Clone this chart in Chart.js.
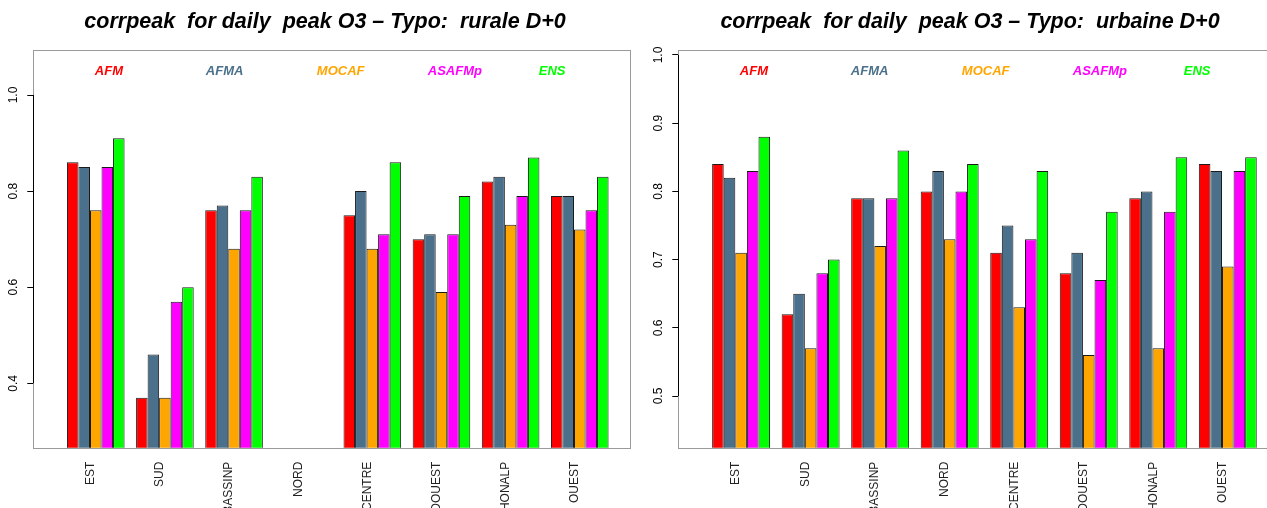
<!DOCTYPE html>
<html>
<head>
<meta charset="utf-8">
<script src="https://cdn.jsdelivr.net/npm/chart.js@4.4.1/dist/chart.umd.min.js"></script>
<style>
  html, body { margin: 0; padding: 0; background: #fff; overflow: hidden; }
  #wrap { position: relative; width: 1267px; height: 508px; overflow: hidden; }
  #rurale { position: absolute; left: 0; top: 0; }
  #urbaine { position: absolute; left: 640px; top: 0; }
</style>
</head>
<body>
<div id="wrap">
  <canvas id="rurale" width="640" height="508"></canvas>
  <canvas id="urbaine" width="650" height="508"></canvas>
</div>
<script>
const regions = ['EST', 'SUD', 'BASSINP', 'NORD', 'CENTRE', 'SUDOUEST', 'RHONALP', 'OUEST'];
const models = ['AFM', 'AFMA', 'MOCAF', 'ASAFMp', 'ENS'];
const colours = ['#ff0000', '#4a708b', '#ffa500', '#ff00ff', '#00ff00'];

// rurale D+0 (no NORD station)
const ruraleAFM    = [0.86, 0.37, 0.76, null, 0.75, 0.70, 0.82, 0.79];
const ruraleAFMA   = [0.85, 0.46, 0.77, null, 0.80, 0.71, 0.83, 0.79];
const ruraleMOCAF  = [0.76, 0.37, 0.68, null, 0.68, 0.59, 0.73, 0.72];
const ruraleASAFMp = [0.85, 0.57, 0.76, null, 0.71, 0.71, 0.79, 0.76];
const ruraleENS    = [0.91, 0.60, 0.83, null, 0.86, 0.79, 0.87, 0.83];
const ruraleTicks  = [0.4, 0.6, 0.8, 1.0];

// urbaine D+0
const urbaineAFM    = [0.84, 0.62, 0.79, 0.80, 0.71, 0.68, 0.79, 0.84];
const urbaineAFMA   = [0.82, 0.65, 0.79, 0.83, 0.75, 0.71, 0.80, 0.83];
const urbaineMOCAF  = [0.71, 0.57, 0.72, 0.73, 0.63, 0.56, 0.57, 0.69];
const urbaineASAFMp = [0.83, 0.68, 0.79, 0.80, 0.73, 0.67, 0.77, 0.83];
const urbaineENS    = [0.88, 0.70, 0.86, 0.84, 0.83, 0.77, 0.85, 0.85];
const urbaineTicks  = [0.5, 0.6, 0.7, 0.8, 0.9, 1.0];

const FONT = '"Liberation Sans", Arial, sans-serif';

// title, box, axis line and the R-style text legend
const rFrame = {
    id: 'rFrame',
    afterDatasetsDraw(chart, args, opts) {
        const ctx = chart.ctx;
        const area = chart.chartArea;
        const y = chart.scales.y;
        ctx.save();
        ctx.strokeStyle = '#9a9a9a';
        ctx.lineWidth = 1;
        ctx.strokeRect(Math.round(area.left) + 0.5, Math.round(area.top) + 0.5,
            Math.round(area.right - area.left), Math.round(area.bottom - area.top));
        const ticks = y.ticks;
        const x0 = Math.round(area.left) + 0.5;
        ctx.strokeStyle = '#000';
        ctx.beginPath();
        ctx.moveTo(x0, y.getPixelForValue(ticks[0].value));
        ctx.lineTo(x0, y.getPixelForValue(ticks[ticks.length - 1].value));
        ctx.stroke();

        ctx.textBaseline = 'middle';
        ctx.font = 'italic bold 13px ' + FONT;
        ctx.textAlign = 'left';
        models.forEach((m, i) => {
            ctx.fillStyle = colours[i];
            ctx.fillText(m, area.left + 61.5 + i * 111, area.top + 21);
        });

        ctx.font = 'italic bold 21.5px ' + FONT;
        ctx.textAlign = 'center';
        ctx.fillStyle = '#000';
        ctx.fillText(opts.text, opts.x, 22);
        ctx.restore();
    }
};

function chart(id, title, series, yTicks, yMin, yMax, pad) {
    const ctx = document.getElementById(id);
    const datasets = models.map((m, i) => ({
        label: m,
        data: series[i].map((v, j) => ({x: j, y: v})),
        backgroundColor: colours[i],
        borderColor: '#1a1a1a',
        borderWidth: 1,
        borderSkipped: 'bottom',
        categoryPercentage: 5 / 6,
        barPercentage: 1
    }));

    new Chart(ctx, {
        type: 'bar',
        data: { datasets: datasets },
        plugins: [rFrame],
        options: {
            responsive: false,
            animation: false,
            devicePixelRatio: 1,
            layout: { padding: { left: 0, right: pad.right, top: 50, bottom: 0 } },
            plugins: {
                legend: { display: false },
                tooltip: { enabled: false },
                title: { display: false },
                rFrame: { text: title, x: pad.titleX }
            },
            scales: {
                x: {
                    type: 'linear',
                    offset: false,
                    min: -0.9033,
                    max: 7.7367,
                    grid: { display: false, drawTicks: false },
                    border: { display: false },
                    afterBuildTicks: (scale) => {
                        scale.ticks = regions.map((r, i) => ({ value: i }));
                    },
                    afterFit: (scale) => { scale.height = 60.3; },
                    ticks: {
                        autoSkip: false,
                        minRotation: 90,
                        maxRotation: 90,
                        padding: 14,
                        labelOffset: -5,
                        color: '#222',
                        font: { family: FONT, size: 12 },
                        callback: (v) => regions[Math.round(v)]
                    }
                },
                y: {
                    min: yMin,
                    max: yMax,
                    grid: { drawOnChartArea: false, drawTicks: true, tickLength: 6, color: '#000' },
                    border: { display: false },
                    afterBuildTicks: (scale) => {
                        scale.ticks = yTicks.map(v => ({ value: v }));
                    },
                    afterFit: (scale) => { scale.width = pad.yWidth; },
                    ticks: {
                        minRotation: 90,
                        maxRotation: 90,
                        crossAlign: 'center',
                        padding: 5,
                        color: '#000',
                        font: { family: FONT, size: 12 },
                        callback: (v) => v.toFixed(1)
                    }
                }
            }
        }
    });
}

chart('rurale', 'corrpeak  for daily  peak O3 \u2013 Typo:  rurale D+0',
    [ruraleAFM, ruraleAFMA, ruraleMOCAF, ruraleASAFMp, ruraleENS],
    ruraleTicks, 0.266, 1.0937, { right: 9.3, yWidth: 33.3, titleX: 325 });

chart('urbaine', 'corrpeak  for daily  peak O3 \u2013 Typo:  urbaine D+0',
    [urbaineAFM, urbaineAFMA, urbaineMOCAF, urbaineASAFMp, urbaineENS],
    urbaineTicks, 0.4242, 1.0073, { right: 11, yWidth: 38.3, titleX: 330 });
</script>
</body>
</html>
